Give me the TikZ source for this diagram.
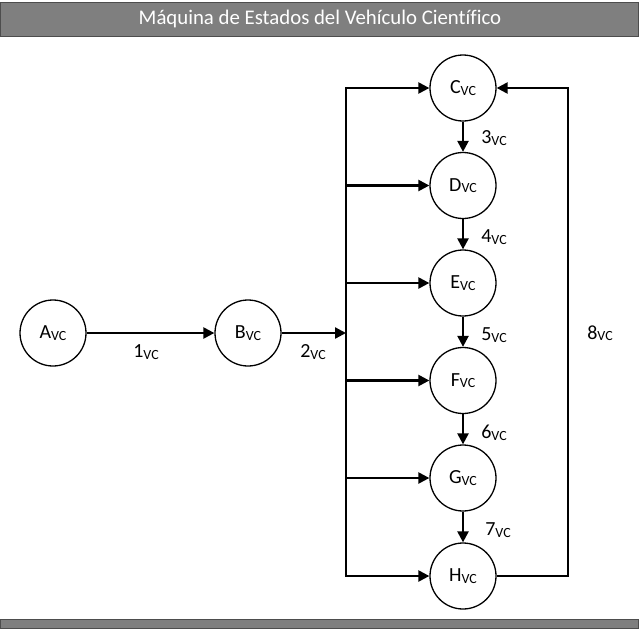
\documentclass[tikz,border=0pt]{standalone}
\usepackage{fontspec}
\setmainfont[Ligatures=NoCommon]{Carlito}
\usetikzlibrary{arrows.meta}
\definecolor{barfill}{HTML}{7F7F7F}
\definecolor{barline}{HTML}{4D4D4D}
\newcommand{\vcsub}[1]{#1{\fontsize{14}{14}\selectfont\raisebox{-1.5pt}{VC}}}
\tikzset{
  state/.style={circle, draw, line width=1.3pt, minimum size=66pt, inner sep=0pt, font=\fontsize{20}{20}\selectfont},
  conn/.style={line width=2.3pt, -{Triangle[length=11pt,width=11pt]}},
  plain/.style={line width=2.3pt},
  lbl/.style={font=\fontsize{20}{20}\selectfont, inner sep=0pt},
  bar/.style={fill=barfill, draw=barline, line width=1pt}
}
\begin{document}
\begin{tikzpicture}[x=1pt,y=-1pt]
\useasboundingbox (0,0) rectangle (640,630);
\draw[bar] (0.5,2.5) rectangle (638,36);
\node[text=white, font=\fontsize{20.8}{20.8}\selectfont] (title) at (320,19) {Máquina de Estados del Vehículo Científico};
\draw[bar] (0.5,619) rectangle (638,628);

\node[state] (A) at (53,333) {\vcsub{A}};
\node[state] (B) at (248,333) {\vcsub{B}};
\node[state] (C) at (463,88) {\vcsub{C}};
\node[state] (D) at (463,185.5) {\vcsub{D}};
\node[state] (E) at (463,283) {\vcsub{E}};
\node[state] (F) at (463,380.5) {\vcsub{F}};
\node[state] (G) at (463,478) {\vcsub{G}};
\node[state] (H) at (463,576) {\vcsub{H}};

\coordinate (busT) at (346,88);
\coordinate (busB) at (346,576);
\coordinate (busM) at (346,333);
\coordinate (retT) at (568,88);
\coordinate (retB) at (568,576);

\draw[conn] (A) -- (B);
\draw[conn] (B) -- (busM);
\draw[plain, line cap=rect] (busT) -- (busB);
\foreach \n in {C,D,E,F,G,H} \draw[conn] (busT |- \n) -- (\n);
\draw[conn] (C) -- (D);
\draw[conn] (D) -- (E);
\draw[conn] (E) -- (F);
\draw[conn] (F) -- (G);
\draw[conn] (G) -- (H);
\draw[conn] (H) -- (retB) -- (retT) -- (C);

\node[lbl] (l1) at (146,352) {\vcsub{1}};
\node[lbl] (l2) at (313,352) {\vcsub{2}};
\node[lbl] (l3) at (494,138) {\vcsub{3}};
\node[lbl] (l4) at (494,237) {\vcsub{4}};
\node[lbl] (l5) at (494,335) {\vcsub{5}};
\node[lbl] (l6) at (494,433) {\vcsub{6}};
\node[lbl] (l7) at (498,530) {\vcsub{7}};
\node[lbl] (l8) at (600,333) {\vcsub{8}};
\end{tikzpicture}
\end{document}
